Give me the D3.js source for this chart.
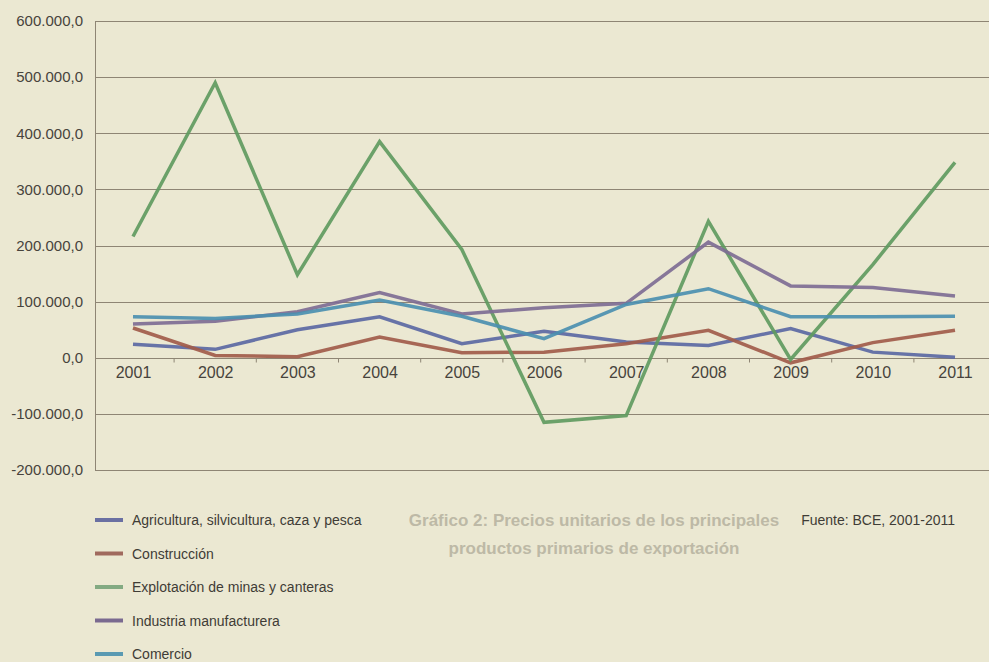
<!DOCTYPE html>
<html>
<head>
<meta charset="utf-8">
<script src="https://cdn.jsdelivr.net/npm/d3@7"></script>
<style>
  html, body { margin: 0; padding: 0; background: #ebe8d2; }
  svg { display: block; font-family: "Liberation Sans", Arial, sans-serif; }
</style>
</head>
<body>
<div class="graph"></div>
<script>
const years = ["2001", "2002", "2003", "2004", "2005", "2006", "2007", "2008", "2009", "2010", "2011"];
const yTicks = [-200000, -100000, 0, 100000, 200000, 300000, 400000, 500000, 600000];

const agricultura = [24000, 15000, 50000, 73000, 25000, 47000, 28000, 22000, 52000, 10000, 1000];
const construccion = [53000, 4000, 2000, 37000, 9000, 10000, 25000, 49000, -9000, 27000, 49000];
const minas = [216000, 490000, 148000, 385000, 193000, -115000, -103000, 243000, -3000, 166000, 348000];
const industria = [60000, 65000, 82000, 116000, 78000, 89000, 97000, 206000, 128000, 125000, 110000];
const comercio = [73000, 70000, 78000, 103000, 74000, 34000, 95000, 123000, 73000, 73000, 74000];

const seriesNames = ["Agricultura, silvicultura, caza y pesca", "Construcción", "Explotación de minas y canteras", "Industria manufacturera", "Comercio"];
const seriesValues = [agricultura, construccion, minas, industria, comercio];
const lineColors = ["#5b68a3", "#a15b4a", "#5f9a60", "#7e6d94", "#4b8fb0"];
const legendColors = ["#6a70a2", "#a06a5e", "#83aa82", "#7a6a90", "#5a9ab2"];

const width = 989, height = 662;
const left = 95, right = 989;

const svg = d3.select(".graph")
    .append("svg")
    .attr("width", width)
    .attr("height", height);

const x = d3.scalePoint()
    .domain(years)
    .range([133, 955]);
const y = d3.scaleLinear()
    .domain([-200000, 600000])
    .range([470, 21]);

// format like 600.000,0
const fmt = d => {
    const s = d3.format(",")(Math.abs(d)).replace(/,/g, ".");
    return (d < 0 ? "-" : "") + s + ",0";
};

// faded title showing through the page
svg.append("g")
    .attr("font-weight", "bold")
    .attr("font-size", 17)
    .attr("fill", "#bdb9a6")
    .attr("text-anchor", "middle")
    .selectAll("text")
    .data(["Gráfico 2: Precios unitarios de los principales", "productos primarios de exportación"])
    .enter()
    .append("text")
    .attr("x", 594)
    .attr("y", (d, i) => 526 + i * 28)
    .text(d => d);

// gridlines
svg.append("g")
    .selectAll("line")
    .data(yTicks)
    .enter()
    .append("line")
    .attr("x1", left)
    .attr("x2", right)
    .attr("y1", d => Math.round(y(d)) + 0.5)
    .attr("y2", d => Math.round(y(d)) + 0.5)
    .attr("stroke", "#8e8574")
    .attr("stroke-width", 1);

// y axis
const yAxis = d3.axisLeft(y)
    .tickValues(yTicks)
    .tickFormat(fmt)
    .tickSize(0)
    .tickPadding(12);
const gy = svg.append("g")
    .attr("transform", "translate(" + left + ",0)")
    .call(yAxis);
gy.select(".domain").attr("stroke", "#8e8574");
gy.selectAll("text")
    .attr("font-size", 15)
    .attr("fill", "#47433c")
    .attr("font-family", "'Liberation Sans', Arial, sans-serif");

// x axis on the zero line
const step = x.step();
const xAxis = d3.axisBottom(x)
    .tickSize(0)
    .tickPadding(8);
const gx = svg.append("g")
    .attr("transform", "translate(0," + (Math.round(y(0)) + 0.5) + ")")
    .call(xAxis);
gx.select(".domain").remove();
gx.selectAll("text")
    .attr("font-size", 16)
    .attr("fill", "#47433c")
    .attr("font-family", "'Liberation Sans', Arial, sans-serif");
gx.selectAll(".minor")
    .data(years)
    .enter()
    .append("line")
    .attr("x1", d => x(d) + step / 2)
    .attr("x2", d => x(d) + step / 2)
    .attr("y1", 0)
    .attr("y2", 4)
    .attr("stroke", "#8e8574");

// series lines
const line = d3.line()
    .x((d, i) => x(years[i]))
    .y(d => y(d));
svg.append("g")
    .selectAll("path")
    .data(seriesValues)
    .enter()
    .append("path")
    .attr("d", d => line(d))
    .attr("fill", "none")
    .attr("stroke", (d, i) => lineColors[i])
    .attr("stroke-width", 3.5)
    .attr("stroke-linejoin", "miter")
    .attr("stroke-opacity", 0.92);

// legend
const legend = svg.append("g")
    .selectAll("g")
    .data(seriesNames)
    .enter()
    .append("g")
    .attr("transform", (d, i) => "translate(0," + (520 + i * 33.5) + ")");
legend.append("line")
    .attr("x1", 95)
    .attr("x2", 123)
    .attr("y1", 0)
    .attr("y2", 0)
    .attr("stroke", (d, i) => legendColors[i])
    .attr("stroke-width", 4);
legend.append("text")
    .attr("x", 132)
    .attr("y", 5)
    .attr("font-size", 14)
    .attr("fill", "#3f3c36")
    .text(d => d);

svg.append("text")
    .attr("x", 955)
    .attr("y", 525)
    .attr("text-anchor", "end")
    .attr("font-size", 14)
    .attr("fill", "#3f3c36")
    .text("Fuente: BCE, 2001-2011");
</script>
</body>
</html>
